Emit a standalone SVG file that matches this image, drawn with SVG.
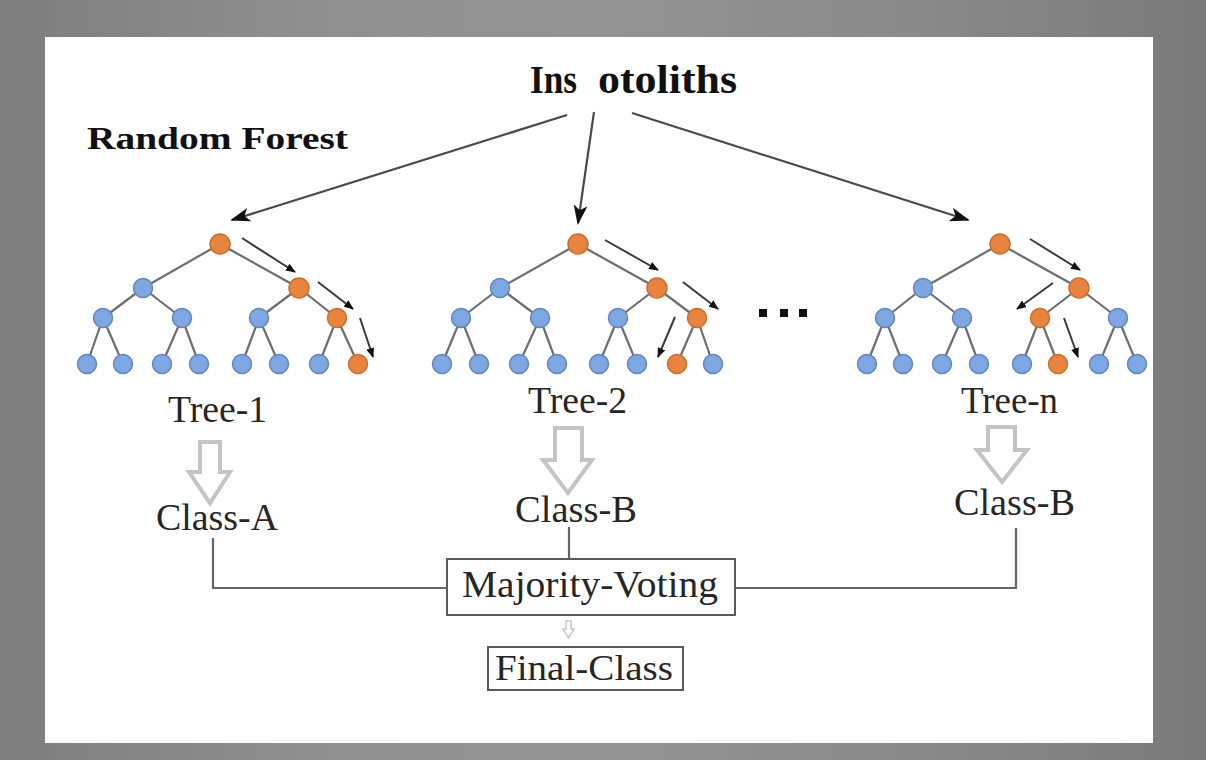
<svg xmlns="http://www.w3.org/2000/svg" width="1206" height="760" viewBox="0 0 1206 760">
  <defs>
    <linearGradient id="bgH" x1="0" y1="0" x2="1" y2="0">
      <stop offset="0" stop-color="#7d7d7d"/>
      <stop offset="0.25" stop-color="#8f8f8f"/>
      <stop offset="0.5" stop-color="#939393"/>
      <stop offset="0.75" stop-color="#8a8a8a"/>
      <stop offset="1" stop-color="#7a7a7a"/>
    </linearGradient>
    <marker id="bigHead" markerWidth="20" markerHeight="14" refX="18" refY="7" orient="auto" markerUnits="userSpaceOnUse">
      <path d="M0,0 L20,7 L0,14 L5,7 Z" fill="#111"/>
    </marker>
    <marker id="smallHead" markerWidth="10" markerHeight="8" refX="9" refY="4" orient="auto" markerUnits="userSpaceOnUse">
      <path d="M0,0 L10,4 L0,8 Z" fill="#111"/>
    </marker>
    <style>
      .edge { stroke: #6e6e6e; stroke-width: 2.2; fill: none; }
      .blue { fill: #7ea6e0; stroke: #6186c6; stroke-width: 1.5; }
      .orange { fill: #e8843e; stroke: #c96f2e; stroke-width: 1.5; }
      .flow { stroke: #3a3a3a; stroke-width: 2; fill: none; marker-end: url(#smallHead); }
      .main { stroke: #4a4a4a; stroke-width: 2.2; fill: none; marker-end: url(#bigHead); }
      .hollow { fill: #ffffff; stroke: #c4c4c4; stroke-width: 4; stroke-linejoin: miter; }
      .conn { stroke: #666; stroke-width: 2.2; fill: none; }
      .box { fill: #ffffff; stroke: #5a5a5a; stroke-width: 2; }
      .lbl { font-family: "Liberation Serif", "Times New Roman", serif; fill: #262626; }
      .bold { font-family: "Liberation Serif", "Times New Roman", serif; font-weight: bold; fill: #111; }
    </style>
  </defs>

  <!-- background -->
  <rect x="0" y="0" width="1206" height="760" fill="url(#bgH)"/>
  <rect x="45" y="37" width="1108" height="706" fill="#ffffff"/>

  <!-- titles -->
  <g id="title">
    <text class="bold" x="530" y="93" font-size="40"><tspan x="530" textLength="47" lengthAdjust="spacingAndGlyphs">Ins</tspan><tspan x="598" textLength="139" lengthAdjust="spacingAndGlyphs">otoliths</tspan></text>
  </g>
  <g id="label-random-forest">
    <text class="bold" x="87" y="149" font-size="32" textLength="261" lengthAdjust="spacingAndGlyphs">Random Forest</text>
  </g>

  <!-- connectors -->
  <g id="connectors">
    <line class="main" x1="567" y1="115" x2="232" y2="220"/>
    <line class="main" x1="594" y1="112" x2="578" y2="223"/>
    <line class="main" x1="632" y1="113" x2="968" y2="220"/>

    <path class="conn" d="M213,538 V588 H447"/>
    <path class="conn" d="M569,527 V559"/>
    <path class="conn" d="M735,588 H1016 V528"/>

    <path class="hollow" d="M200,442 H220 V472 H230 L210,503 L189,472 H200 Z"/>
    <path class="hollow" d="M555,428 H582 V460 H592 L568,493 L543,460 H555 Z"/>
    <path class="hollow" d="M988,427 H1015 V450 H1027 L1002,482 L977,450 H988 Z"/>
    <path d="M566,621 H571 V629 H574 L568.5,638 L563,629 H566 Z" fill="#fff" stroke="#c8c8c8" stroke-width="1.5"/>
  </g>

  <!-- Tree 1 -->
  <g id="tree-1">
    <path class="edge" d="M220,244 L143,288 M220,244 L299,288 M143,288 L103,318 M143,288 L182,318 M299,288 L259,318 M299,288 L337,318 M103,318 L87,364 M103,318 L123,364 M182,318 L162,364 M182,318 L199,364 M259,318 L242,364 M259,318 L279,364 M337,318 L319,364 M337,318 L358,364"/>
    <circle class="orange" cx="220" cy="244" r="10"/>
    <circle class="blue" cx="143" cy="288" r="9.5"/>
    <circle class="orange" cx="299" cy="288" r="10"/>
    <circle class="blue" cx="103" cy="318" r="9.5"/>
    <circle class="blue" cx="182" cy="318" r="9.5"/>
    <circle class="blue" cx="259" cy="318" r="9.5"/>
    <circle class="orange" cx="337" cy="318" r="9.5"/>
    <circle class="blue" cx="87" cy="364" r="9.5"/>
    <circle class="blue" cx="123" cy="364" r="9.5"/>
    <circle class="blue" cx="162" cy="364" r="9.5"/>
    <circle class="blue" cx="199" cy="364" r="9.5"/>
    <circle class="blue" cx="242" cy="364" r="9.5"/>
    <circle class="blue" cx="279" cy="364" r="9.5"/>
    <circle class="blue" cx="319" cy="364" r="9.5"/>
    <circle class="orange" cx="358" cy="364" r="9.5"/>
    <line class="flow" x1="242" y1="238" x2="295" y2="272"/>
    <line class="flow" x1="318" y1="282" x2="353" y2="309"/>
    <line class="flow" x1="360" y1="318" x2="373" y2="357"/>
    <text class="lbl" x="168" y="422" font-size="37" textLength="99" lengthAdjust="spacingAndGlyphs">Tree-1</text>
  </g>

  <!-- Tree 2 -->
  <g id="tree-2">
    <path class="edge" d="M578,244 L500,288 M578,244 L657,288 M500,288 L461,318 M500,288 L540,318 M657,288 L618,318 M657,288 L697,318 M461,318 L442,364 M461,318 L479,364 M540,318 L519,364 M540,318 L557,364 M618,318 L599,364 M618,318 L637,364 M697,318 L677,364 M697,318 L713,364"/>
    <circle class="orange" cx="578" cy="244" r="10"/>
    <circle class="blue" cx="500" cy="288" r="9.5"/>
    <circle class="orange" cx="657" cy="288" r="10"/>
    <circle class="blue" cx="461" cy="318" r="9.5"/>
    <circle class="blue" cx="540" cy="318" r="9.5"/>
    <circle class="blue" cx="618" cy="318" r="9.5"/>
    <circle class="orange" cx="697" cy="318" r="9.5"/>
    <circle class="blue" cx="442" cy="364" r="9.5"/>
    <circle class="blue" cx="479" cy="364" r="9.5"/>
    <circle class="blue" cx="519" cy="364" r="9.5"/>
    <circle class="blue" cx="557" cy="364" r="9.5"/>
    <circle class="blue" cx="599" cy="364" r="9.5"/>
    <circle class="blue" cx="637" cy="364" r="9.5"/>
    <circle class="orange" cx="677" cy="364" r="9.5"/>
    <circle class="blue" cx="713" cy="364" r="9.5"/>
    <line class="flow" x1="605" y1="240" x2="658" y2="270"/>
    <line class="flow" x1="683" y1="282" x2="718" y2="309"/>
    <line class="flow" x1="675" y1="317" x2="658" y2="357"/>
    <text class="lbl" x="528" y="413" font-size="37" textLength="99" lengthAdjust="spacingAndGlyphs">Tree-2</text>
  </g>

  <!-- ellipsis -->
  <g id="ellipsis" fill="#111">
    <rect x="759" y="309" width="8" height="8"/>
    <rect x="780" y="309" width="8" height="8"/>
    <rect x="799" y="309" width="8" height="8"/>
  </g>

  <!-- Tree n -->
  <g id="tree-n">
    <path class="edge" d="M1000,244 L923,288 M1000,244 L1079,288 M923,288 L885,318 M923,288 L962,318 M1079,288 L1040,318 M1079,288 L1118,318 M885,318 L867,364 M885,318 L903,364 M962,318 L942,364 M962,318 L979,364 M1040,318 L1022,364 M1040,318 L1058,364 M1118,318 L1099,364 M1118,318 L1137,364"/>
    <circle class="orange" cx="1000" cy="244" r="10"/>
    <circle class="blue" cx="923" cy="288" r="9.5"/>
    <circle class="orange" cx="1079" cy="288" r="10"/>
    <circle class="blue" cx="885" cy="318" r="9.5"/>
    <circle class="blue" cx="962" cy="318" r="9.5"/>
    <circle class="orange" cx="1040" cy="318" r="9.5"/>
    <circle class="blue" cx="1118" cy="318" r="9.5"/>
    <circle class="blue" cx="867" cy="364" r="9.5"/>
    <circle class="blue" cx="903" cy="364" r="9.5"/>
    <circle class="blue" cx="942" cy="364" r="9.5"/>
    <circle class="blue" cx="979" cy="364" r="9.5"/>
    <circle class="blue" cx="1022" cy="364" r="9.5"/>
    <circle class="orange" cx="1058" cy="364" r="9.5"/>
    <circle class="blue" cx="1099" cy="364" r="9.5"/>
    <circle class="blue" cx="1137" cy="364" r="9.5"/>
    <line class="flow" x1="1030" y1="239" x2="1080" y2="270"/>
    <line class="flow" x1="1053" y1="283" x2="1017" y2="309"/>
    <line class="flow" x1="1064" y1="318" x2="1078" y2="357"/>
    <text class="lbl" x="961" y="413" font-size="37" textLength="97" lengthAdjust="spacingAndGlyphs">Tree-n</text>
  </g>

  <!-- class labels -->
  <g id="class-a">
    <text class="lbl" x="156" y="530" font-size="37" textLength="122" lengthAdjust="spacingAndGlyphs">Class-A</text>
  </g>
  <g id="class-b-2">
    <text class="lbl" x="515" y="522" font-size="37" textLength="122" lengthAdjust="spacingAndGlyphs">Class-B</text>
  </g>
  <g id="class-b-n">
    <text class="lbl" x="954" y="515" font-size="37" textLength="121" lengthAdjust="spacingAndGlyphs">Class-B</text>
  </g>

  <!-- majority voting -->
  <g id="majority-voting">
    <rect class="box" x="447" y="559" width="288" height="56"/>
    <text class="lbl" x="462" y="597" font-size="37" textLength="256" lengthAdjust="spacingAndGlyphs">Majority-Voting</text>
  </g>

  <!-- final class -->
  <g id="final-class">
    <rect class="box" x="488" y="647" width="195" height="43"/>
    <text class="lbl" x="495" y="680" font-size="35" textLength="178" lengthAdjust="spacingAndGlyphs">Final-Class</text>
  </g>
</svg>
